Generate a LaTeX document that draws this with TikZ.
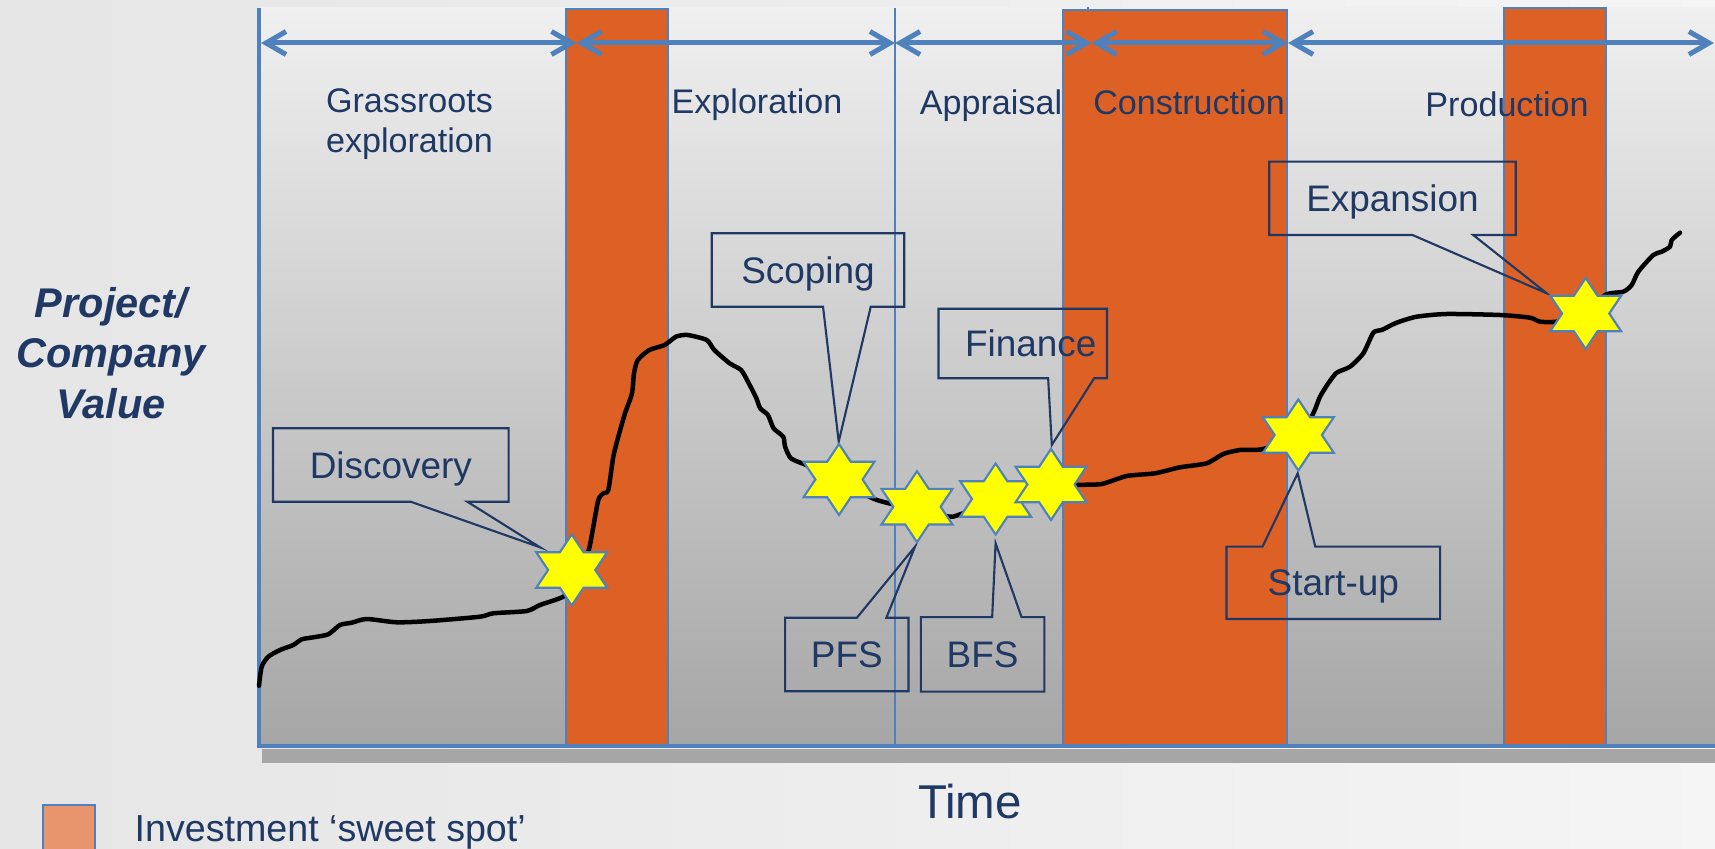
\documentclass[tikz,border=0pt]{standalone}
\usepackage{fontspec}
\setmainfont{Liberation Sans}
\usepackage{tikz}
\usetikzlibrary{arrows.meta,calc}

\definecolor{phaseblue}{RGB}{79,129,189}
\definecolor{navytext}{RGB}{31,56,100}
\definecolor{sweetorange}{RGB}{221,97,37}
\definecolor{legendorange}{RGB}{232,148,108}
\definecolor{staryellow}{RGB}{255,255,0}

\begin{document}
\begin{tikzpicture}[x=0.01cm, y=-0.01cm,
  phasearr/.style={{Straight Barb[length=0.2cm,width=0.23cm]}-{Straight Barb[length=0.2cm,width=0.23cm]},
    line width=0.05cm, color=phaseblue},
  divider/.style={draw=phaseblue, line width=0.6pt},
  sweetbar/.style={fill=sweetorange, draw=phaseblue, line width=0.6pt},
  axisline/.style={draw=phaseblue, line width=0.04cm},
  phaselbl/.style={text=navytext, font=\fontsize{9.7}{11.4}\selectfont, inner sep=0pt},
  callout/.style={text=navytext, font=\fontsize{10.5}{12}\selectfont, inner sep=0pt, text depth=0pt},
  callline/.style={draw=navytext, line width=0.6pt, line join=miter},
  valuecurve/.style={draw=black, line width=0.045cm, line join=round, line cap=round},
  starfill/.style={fill=staryellow, draw=phaseblue, line width=0.6pt, line join=miter}
]
\useasboundingbox (0,0) rectangle (1715,849);
\fill[left color=black!10, right color=black!4] (0,0) rectangle (1715,849);

% Chart area
\fill[top color=black!6, middle color=black!17, bottom color=black!35] (259,8) rectangle (1715,746);
\draw[divider] (895,8) -- (895,746);
\draw[divider] (1088,7) -- (1088,746);

% Investment sweet spots
\draw[sweetbar] (566,9) rectangle (668,746);
\draw[sweetbar] (1063,10) rectangle (1287,746);
\draw[sweetbar] (1504,8) rectangle (1606,746);

% Axes
\fill[black!35] (262,749) rectangle (1715,763);
\draw[axisline] (259,8) -- (259,748);
\draw[axisline] (257,746) -- (1715,746);

% Phase arrows
\coordinate (p0) at (261,43);
\coordinate (p1) at (576.5,43);
\coordinate (p2) at (895,43);
\coordinate (p3) at (1091.5,43);
\coordinate (p4) at (1288,43);
\coordinate (p5) at (1714,43);
\draw[phasearr] (p0) -- (p1);
\draw[phasearr] (p1) -- (p2);
\draw[phasearr] (p2) -- (p3);
\draw[phasearr] (p3) -- (p4);
\draw[phasearr] (p4) -- (p5);

% Phase labels
\node[phaselbl, align=center] (grass) at (409.5,124) {Grassroots\\exploration};
\node[phaselbl, anchor=base] (explo) at (757,114) {Exploration};
\node[phaselbl, anchor=base] (apprai) at (991,115) {Appraisal};
\node[phaselbl, anchor=base] (constr) at (1189,115) {Construction};
\node[phaselbl, anchor=base] (produc) at (1507,117) {Production};

% Value curve
\draw[valuecurve] plot[smooth, tension=0.4] coordinates {
  (259,685.7) (261.7,666.7) (268.3,656.7) (280,650) (293.3,645) (301.7,639.3)
  (313.3,637.3) (328.3,634.3) (340,625) (351.7,622.7) (366.7,619) (396.7,622.3)
  (430,621) (480,616.7) (493.3,613.3) (526.7,611) (540,605) (563.3,596.7)
  (575,585) (588.3,551.7) (593.3,526.7) (598.3,500) (603.3,493.3) (608.3,490)
  (613.3,456.7) (618.3,436.7) (625,413.3) (632,393.3) (634,373.3) (637.8,360)
  (649.3,350) (664.6,345) (676,336.7) (687.5,335) (706.7,340) (714.3,350)
  (729.6,363.3) (741.1,370) (748.8,383.3) (756.4,398.3) (760.2,408.3) (767.9,415)
  (773.6,428.3) (783.2,436.7) (785.1,446.7) (790.9,458.3) (806.2,465) (839,479)
  (869.3,496.7) (882.7,501.7) (917,510) (949.7,516.7) (963,513.3) (995.6,503)
  (1028,496) (1051,488) (1076.7,485) (1101.7,484) (1126.7,476) (1155,473.3)
  (1180,467.3) (1206.7,463.3) (1223.3,454) (1240,450) (1263.3,449) (1300,435)
  (1313.3,413.3) (1320,396.7) (1328.3,383.3) (1336.7,372.7) (1350,366.7) (1363.3,353.3)
  (1373.3,332.7) (1381.7,330) (1396.7,322.7) (1416.7,316.7) (1446.7,314) (1500,315)
  (1530,317.7) (1540,321.7) (1556.7,321.7) (1585,316) (1605,295) (1623.3,291.7)
  (1631.7,285) (1638.3,271.7) (1653.3,255) (1661.7,251.7) (1670,246.7) (1671.7,240)
  (1680,232.7)};

% Milestone callouts
\node[callout, minimum width=2.34cm, minimum height=0.72cm] (cDisc) at (390.8,465) {Discovery};
\node[callout, minimum width=1.91cm, minimum height=0.72cm] (cScop) at (808,270) {Scoping};
\node[callout, minimum width=1.67cm, minimum height=0.68cm] (cFin) at (1022.7,343.5) {\hspace*{0.16cm}Finance};
\node[callout, minimum width=1.22cm, minimum height=0.72cm] (cPFS) at (846.8,654.5) {PFS};
\node[callout, minimum width=1.22cm, minimum height=0.73cm] (cBFS) at (982.6,654.4) {BFS};
\node[callout, minimum width=2.12cm, minimum height=0.71cm] (cStart) at (1333.3,582.8) {Start-up};
\node[callout, minimum width=2.45cm, minimum height=0.72cm] (cExp) at (1392.5,198.3) {Expansion};

\coordinate (tDisc) at (540,547.3);
\coordinate (tScop) at (838.7,441.7);
\coordinate (tFin) at (1051.8,445);
\coordinate (tPFS) at (915,546.7);
\coordinate (tBFS) at (995.6,543.3);
\coordinate (tStart) at (1297.7,473.3);
\coordinate (tExp) at (1546.7,293.3);

\draw[callline] (cDisc.north west) -- (cDisc.north east) -- (cDisc.south east)
  -- ($(cDisc.south west)+(194.3,0)$) -- (tDisc) -- ($(cDisc.south west)+(137.7,0)$)
  -- (cDisc.south west) -- cycle;
\draw[callline] (cScop.north west) -- (cScop.north east) -- (cScop.south east)
  -- ($(cScop.south west)+(159,0)$) -- (tScop) -- ($(cScop.south west)+(111.3,0)$)
  -- (cScop.south west) -- cycle;
\draw[callline] (cFin.north west) -- (cFin.north east) -- (cFin.south east)
  -- ($(cFin.south west)+(155.7,0)$) -- (tFin) -- ($(cFin.south west)+(109.7,0)$)
  -- (cFin.south west) -- cycle;
\draw[callline] (cExp.north west) -- (cExp.north east) -- (cExp.south east)
  -- ($(cExp.south west)+(204,0)$) -- (tExp) -- ($(cExp.south west)+(143.3,0)$)
  -- (cExp.south west) -- cycle;
\draw[callline] (cPFS.south west) -- (cPFS.south east) -- (cPFS.north east)
  -- ($(cPFS.north west)+(101.3,0)$) -- (tPFS) -- ($(cPFS.north west)+(71.8,0)$)
  -- (cPFS.north west) -- cycle;
\draw[callline] (cBFS.south west) -- (cBFS.south east) -- (cBFS.north east)
  -- ($(cBFS.north west)+(100.7,0)$) -- (tBFS) -- ($(cBFS.north west)+(71.3,0)$)
  -- (cBFS.north west) -- cycle;
\draw[callline] (cStart.south west) -- (cStart.south east) -- (cStart.north east)
  -- ($(cStart.north west)+(88.7,0)$) -- (tStart) -- ($(cStart.north west)+(36,0)$)
  -- (cStart.north west) -- cycle;

% Milestone stars
\coordinate (sDisc) at (571.7,570);
\coordinate (sScop) at (839,479.5);
\coordinate (sPFS) at (917,506.7);
\coordinate (sBFS) at (995.6,499);
\coordinate (sFin) at (1051,484.5);
\coordinate (sStart) at (1298.3,435);
\coordinate (sExp) at (1585.7,313.5);
\foreach \s in {sDisc,sScop,sPFS,sBFS,sFin,sStart,sExp}
  \draw[starfill, shift={(\s)}] (0,-35.5) -- (11.8,-17.8) -- (35.5,-17.8) -- (23.6,0)
    -- (35.5,17.8) -- (11.8,17.8) -- (0,35.5) -- (-11.8,17.8) -- (-35.5,17.8)
    -- (-23.6,0) -- (-35.5,-17.8) -- (-11.8,-17.8) -- cycle;

% Axis titles and legend
\node[text=navytext, font=\fontsize{11.8}{14.4}\selectfont\bfseries\itshape, align=center, inner sep=0pt]
  (yaxis) at (111,353) {Project/\\Company\\Value};
\node[text=navytext, font=\fontsize{13.5}{16}\selectfont, inner sep=0pt] (xaxis) at (970,801.5) {Time};
\node[fill=legendorange, draw=phaseblue, line width=0.6pt, minimum width=0.52cm, minimum height=0.5cm,
  inner sep=0pt] (legbox) at (68.8,830) {};
\node[text=navytext, font=\fontsize{10.7}{12}\selectfont, anchor=base west, inner sep=0pt]
  (legtext) at (134,841.7) {Investment ‘sweet spot’};
\end{tikzpicture}
\end{document}
